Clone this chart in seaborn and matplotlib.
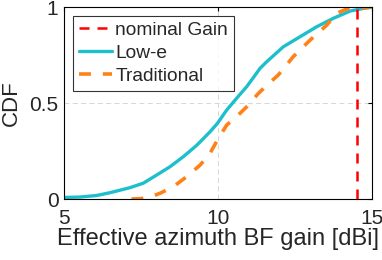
import matplotlib
matplotlib.use("Agg")
import matplotlib.pyplot as plt
import pandas as pd
import seaborn as sns

# CDF curves
low_e_gain = [5.0, 5.5, 6.05, 6.5, 7.14, 7.57, 8.01, 8.44, 8.87, 9.31, 9.74, 9.98,
              10.28, 10.6, 10.93, 11.15, 11.36, 11.58, 12.12, 12.66, 13.2, 13.74,
              14.29, 14.72, 14.94, 15.0]
low_e_cdf = [0.008, 0.01, 0.018, 0.033, 0.059, 0.082, 0.125, 0.168, 0.22, 0.28, 0.35, 0.394,
             0.463, 0.524, 0.585, 0.633, 0.68, 0.715, 0.793, 0.845, 0.897, 0.941,
             0.979, 0.993, 0.998, 1.0]

trad_gain = [7.19, 7.5, 7.8, 8.12, 8.55, 8.98, 9.42, 9.74, 9.98, 10.28, 10.6, 10.93,
             11.31, 11.6, 11.95, 12.44, 12.99, 13.53, 13.85, 14.18, 14.5, 14.94]
trad_cdf = [0.0, 0.002, 0.01, 0.03, 0.064, 0.116, 0.177, 0.238, 0.307, 0.385, 0.429, 0.48,
            0.55, 0.595, 0.645, 0.741, 0.828, 0.906, 0.967, 0.99, 0.995, 0.998]

nominal_gain = 14.5
x_ticks = [5, 10, 15]
y_ticks = [0, 0.5, 1]
y_tick_labels = ['0', '0.5', '1']

sns.set_style("white")
plt.rcParams['font.family'] = ['Liberation Sans', 'DejaVu Sans']

fig = plt.figure(figsize=(3.82, 2.6), dpi=100)
ax = fig.add_axes([0.1675, 0.2346, 0.8065, 0.7384])

df_low = pd.DataFrame({'gain': low_e_gain, 'cdf': low_e_cdf})
df_trad = pd.DataFrame({'gain': trad_gain, 'cdf': trad_cdf})

ax.axvline(nominal_gain, color='#ff0000', linestyle=(0, (4, 3.2)), linewidth=1.8,
           label='nominal Gain', zorder=3)
sns.lineplot(data=df_low, x='gain', y='cdf', ax=ax, color='#1ebfcc', linewidth=2.4,
             label='Low-e', zorder=2)
sns.lineplot(data=df_trad, x='gain', y='cdf', ax=ax, color='#ff8219', linewidth=2.6,
             linestyle=(0, (3.3, 3.3)), label='Traditional', zorder=2)

ax.set_xlim(5, 15)
ax.set_ylim(0, 1)
ax.set_xticks(x_ticks)
ax.set_yticks(y_ticks)
ax.set_yticklabels(y_tick_labels)
ax.grid(True, linestyle=(0, (6, 4)), linewidth=0.6, color='#d0d0d0')
ax.tick_params(direction='in', length=3, top=True, right=True, labelsize=15,
               color='black', width=0.8)
ax.tick_params(axis='x', pad=7)
ax.tick_params(axis='y', pad=4)
for s in ax.spines.values():
    s.set_color('black')
    s.set_linewidth(0.8)

ax.set_xlabel('Effective azimuth BF gain [dBi]', fontsize=17, labelpad=0)
ax.set_ylabel('CDF', fontsize=16, labelpad=5)

leg = ax.legend(loc='upper left', fontsize=13.8, frameon=True, fancybox=False,
                borderpad=0.32, labelspacing=0.28, handlelength=1.75, handletextpad=0.15,
                borderaxespad=0.45)
leg.get_frame().set_edgecolor('black')
leg.get_frame().set_linewidth(0.8)

fig.savefig('out.png', dpi=100)
